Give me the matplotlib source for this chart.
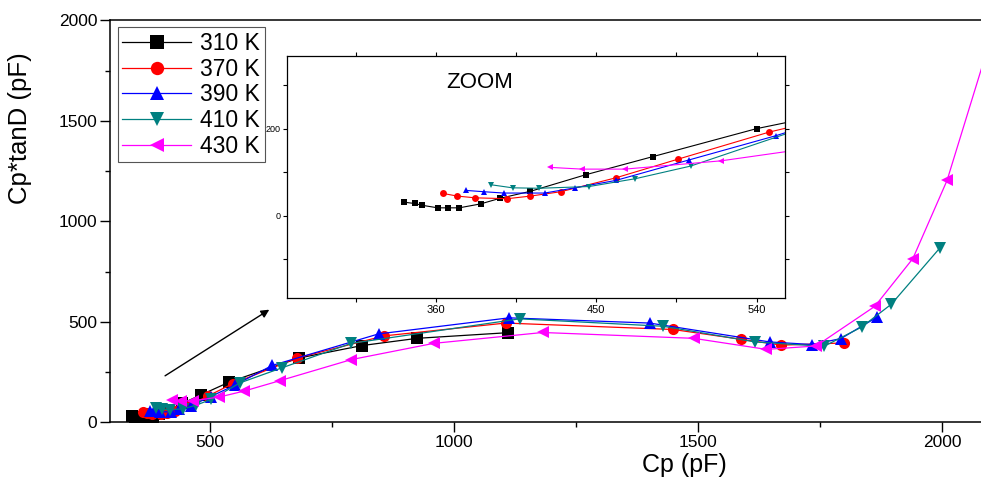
import matplotlib.pyplot as plt
from matplotlib.ticker import MultipleLocator

plt.rcParams['font.family'] = ['Liberation Sans', 'DejaVu Sans']

# Cp (pF) and Cp*tanD (pF) for each temperature
cp_310 = [342, 348, 352, 361, 367, 373, 385, 396, 413, 444, 482, 540, 683, 812, 925, 1110]
ct_310 = [31, 28, 24, 18, 18, 18, 27, 40, 56, 94, 136, 200, 320, 382, 418, 446]

cp_370 = [364, 372, 382, 400, 413, 430, 461, 496, 547, 679, 857, 1106, 1449, 1589, 1671, 1798]
ct_370 = [51, 45, 41, 39, 45, 55, 87, 130, 192, 320, 430, 494, 462, 413, 384, 395]

cp_390 = [377, 387, 398, 421, 438, 461, 502, 551, 628, 846, 1113, 1401, 1647, 1734, 1793, 1867]
ct_390 = [58, 55, 52, 52, 64, 81, 128, 184, 283, 440, 520, 494, 400, 387, 417, 524]

cp_410 = [391, 403, 418, 446, 472, 503, 563, 649, 790, 1135, 1429, 1617, 1758, 1835, 1896, 1995]
ct_410 = [71, 64, 63, 67, 85, 114, 197, 272, 393, 515, 478, 400, 378, 474, 588, 867]

cp_430 = [424, 442, 466, 520, 570, 645, 790, 959, 1182, 1491, 1640, 1742, 1862, 1940, 2010, 2100]
ct_430 = [111, 107, 107, 126, 155, 208, 312, 393, 447, 418, 363, 380, 577, 815, 1204, 1915]

labels = ['310 K', '370 K', '390 K', '410 K', '430 K']
colors = ['black', 'red', 'blue', '#008080', 'magenta']
markers = ['s', 'o', '^', 'v', '<']
series = [(cp_310, ct_310), (cp_370, ct_370), (cp_390, ct_390),
          (cp_410, ct_410), (cp_430, ct_430)]

fig = plt.figure(figsize=(9.81, 4.8), dpi=100)
ax = fig.add_axes([0.1126, 0.1202, 0.8976, 0.8371])

for (x, y), lab, c, m in zip(series, labels, colors, markers):
    ax.plot(x, y, color=c, marker=m, markersize=8, linewidth=0.9,
            markeredgewidth=0, label=lab)

ax.set_xlim(297, 2100)
ax.set_ylim(0, 2000)
ax.xaxis.set_major_locator(MultipleLocator(500))
ax.xaxis.set_minor_locator(MultipleLocator(250))
ax.yaxis.set_major_locator(MultipleLocator(500))
ax.yaxis.set_minor_locator(MultipleLocator(250))
ax.tick_params(which='major', direction='out', length=7, width=1, labelsize=12.5, pad=2.5)
ax.tick_params(which='minor', direction='out', length=3.6, width=1)
ax.spines['right'].set_visible(False)
for s in ['left', 'bottom', 'top']:
    ax.spines[s].set_linewidth(1.1)

fig.text(0.0204, 0.733, 'Cp*tanD (pF)', rotation=90, ha='center', va='center', fontsize=18.5)
fig.text(0.698, 0.0167, 'Cp (pF)', ha='center', va='baseline', fontsize=18)

leg = ax.legend(loc='upper left', bbox_to_anchor=(0.0083, 0.983), borderaxespad=0,
                fontsize=16.5, markerscale=1.2, handlelength=3, handletextpad=0.4,
                labelspacing=0.12, borderpad=0.2, fancybox=False, framealpha=1)
leg.get_frame().set_edgecolor('#555555')
leg.get_frame().set_linewidth(0.8)

ax.annotate('', xy=(627, 568), xytext=(404, 224),
            arrowprops=dict(arrowstyle='-|>', color='black', lw=1, mutation_scale=12))

# zoomed inset
ins = fig.add_axes([0.2929, 0.3785, 0.5073, 0.5048])
for (x, y), c, m in zip(series, colors, markers):
    ins.plot(x, y, color=c, marker=m, markersize=5, linewidth=0.8, markeredgewidth=0)
ins.set_xlim(276.5, 556)
ins.set_ylim(-190, 367)
ins.xaxis.set_major_locator(MultipleLocator(90))
ins.xaxis.set_minor_locator(MultipleLocator(45))
ins.yaxis.set_major_locator(MultipleLocator(200))
ins.yaxis.set_minor_locator(MultipleLocator(100))
ins.tick_params(axis='x', which='major', labelsize=8)
ins.tick_params(axis='y', which='major', labelsize=6.5)
ins.tick_params(which='both', direction='out', length=3, width=0.8, pad=2,
                top=True, right=True)
for s in ins.spines.values():
    s.set_linewidth(0.9)
ins.text(0.32, 0.89, 'ZOOM', transform=ins.transAxes, fontsize=16, ha='left', va='center')

fig.savefig('out.png', dpi=100)
